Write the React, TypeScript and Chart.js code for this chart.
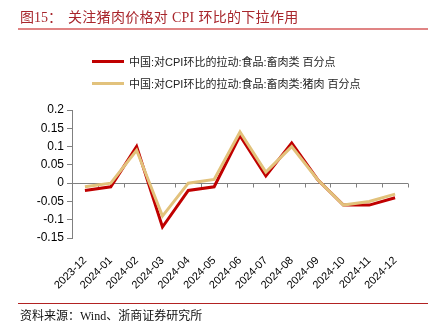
import React, { useEffect, useRef } from "react";
import { Chart, registerables } from "chart.js";

Chart.register(...registerables);

const categories = [
  "2023-12", "2024-01", "2024-02", "2024-03", "2024-04", "2024-05", "2024-06",
  "2024-07", "2024-08", "2024-09", "2024-10", "2024-11", "2024-12",
];
const meatValues = [-0.02, -0.01, 0.10, -0.12, -0.02, -0.01, 0.13, 0.02, 0.11, 0.01, -0.06, -0.06, -0.04];
const porkValues = [-0.01, 0.0, 0.09, -0.09, 0.0, 0.01, 0.14, 0.03, 0.10, 0.01, -0.06, -0.05, -0.03];
const meatLabel = "中国:对CPI环比的拉动:食品:畜肉类 百分点";
const porkLabel = "中国:对CPI环比的拉动:食品:畜肉类:猪肉 百分点";
const titleNo = "图15：";
const titleText = "关注猪肉价格对 CPI 环比的下拉作用";
const sourceText = "资料来源：Wind、浙商证券研究所";

const RED = "#c00000";
const TAN = "#e2c27c";
const AXIS = "#808080";

const zeroLinePlugin = {
  id: "zeroLine",
  beforeDatasetsDraw(chart: any) {
    const { ctx, chartArea, scales } = chart;
    const y0 = Math.round(scales.y.getPixelForValue(0)) + 0.5;
    const n = categories.length;
    const w = (chartArea.right - chartArea.left) / n;
    ctx.save();
    ctx.strokeStyle = AXIS;
    ctx.lineWidth = 1;
    ctx.beginPath();
    ctx.moveTo(chartArea.left - 2, y0);
    ctx.lineTo(chartArea.right, y0);
    for (let i = 1; i <= n; i++) {
      const x = Math.round(chartArea.left + i * w) + 0.5;
      ctx.moveTo(x, y0);
      ctx.lineTo(x, y0 + 4);
    }
    ctx.stroke();
    ctx.restore();
  },
};

export default function App() {
  const ref = useRef<HTMLCanvasElement>(null);
  useEffect(() => {
    if (!ref.current) return;
    const chart = new Chart(ref.current, {
      type: "line",
      data: {
        labels: categories,
        datasets: [
          {
            label: meatLabel,
            data: meatValues,
            borderColor: RED,
            backgroundColor: RED,
            borderWidth: 3,
            pointRadius: 0,
            tension: 0,
            order: 1,
          },
          {
            label: porkLabel,
            data: porkValues,
            borderColor: TAN,
            backgroundColor: TAN,
            borderWidth: 3,
            pointRadius: 0,
            tension: 0,
            order: 0,
          },
        ],
      },
      options: {
        responsive: false,
        animation: false,
        layout: { padding: { top: 110, left: 0, right: 34, bottom: 0 } },
        plugins: { legend: { display: false }, tooltip: { enabled: false } },
        scales: {
          x: {
            offset: true,
            grid: { display: false },
            border: { display: false },
            ticks: {
              autoSkip: false,
              maxRotation: 45,
              minRotation: 45,
              padding: 8,
              color: "#000",
              font: { family: "'Liberation Sans', Arial, sans-serif", size: 11 },
            },
            afterFit(scale: any) {
              scale.height = 84;
            },
          },
          y: {
            min: -0.15,
            max: 0.2,
            ticks: {
              stepSize: 0.05,
              padding: 3,
              color: "#000",
              font: { family: "'Liberation Sans', Arial, sans-serif", size: 12 },
              callback: (v: any) => String(Math.round(Number(v) * 100) / 100),
            },
            grid: { drawOnChartArea: false, drawTicks: true, tickLength: 5, color: AXIS },
            border: { display: true, color: AXIS },
            afterFit(scale: any) {
              scale.width = 72;
            },
          },
        },
      },
      plugins: [zeroLinePlugin],
    });
    return () => chart.destroy();
  }, []);

  const legendItem = (color: string, text: string, top: number) => (
    <div style={{ position: "absolute", left: 92, top: top - 8, height: 16, display: "flex", alignItems: "center" }}>
      <div style={{ width: 32, height: 3, background: color, marginRight: 5 }} />
      <span style={{ fontFamily: "'Liberation Sans', 'Noto Sans CJK SC', sans-serif", fontSize: 11, color: "#222", whiteSpace: "nowrap" }}>{text}</span>
    </div>
  );

  return (
    <div style={{ position: "absolute", left: 0, top: 0, width: 442, height: 322, background: "#fff", overflow: "hidden" }}>
      <canvas ref={ref} width={442} height={322} style={{ position: "absolute", left: 0, top: 0, width: 442, height: 322 }} />
      <div style={{ position: "absolute", left: 20, top: 6, height: 20, display: "flex", alignItems: "center", fontFamily: "'Liberation Serif', 'Noto Sans CJK SC', serif", fontSize: 14, color: "#a8262c", whiteSpace: "nowrap" }}>
        <span style={{ width: 48, display: "inline-block" }}>{titleNo}</span>
        <span style={{ letterSpacing: 0.3 }}>{titleText}</span>
      </div>
      <div style={{ position: "absolute", left: 18, top: 28, width: 410, height: 2, background: "#e08484" }} />
      {legendItem(RED, meatLabel, 61)}
      {legendItem(TAN, porkLabel, 83)}
      <div style={{ position: "absolute", left: 18, top: 303, width: 410, height: 1, background: "#b22222" }} />
      <div style={{ position: "absolute", left: 20, top: 307, height: 16, display: "flex", alignItems: "center", fontFamily: "'Liberation Serif', 'Noto Sans CJK SC', serif", fontSize: 12, color: "#111", whiteSpace: "nowrap" }}>
        {sourceText}
      </div>
    </div>
  );
}
